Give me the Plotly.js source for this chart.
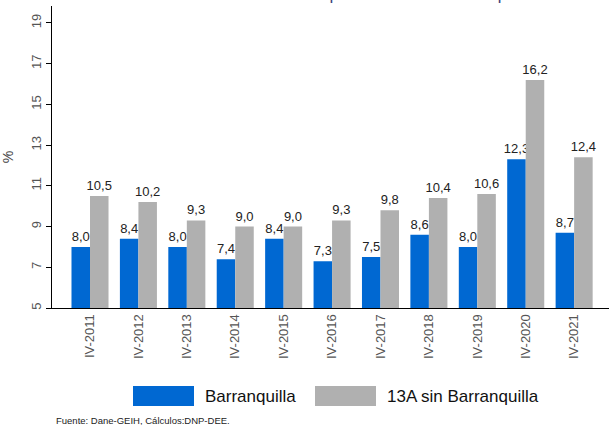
<!DOCTYPE html>
<html>
<head>
<meta charset="utf-8">
<script src="https://cdn.plot.ly/plotly-3.0.1.min.js"></script>
<style>html,body{margin:0;padding:0;background:#fff;}#chart{width:610px;height:425px;}</style>
</head>
<body>
<div id="chart"></div>
<script>
var categories = ["IV-2011","IV-2012","IV-2013","IV-2014","IV-2015","IV-2016","IV-2017","IV-2018","IV-2019","IV-2020","IV-2021"];
var barranquilla = [8.0, 8.4, 8.0, 7.4, 8.4, 7.3, 7.5, 8.6, 8.0, 12.3, 8.7];
var sinBarranquilla = [10.5, 10.2, 9.3, 9.0, 9.0, 9.3, 9.8, 10.4, 10.6, 16.2, 12.4];
var seriesNames = ["Barranquilla", "13A sin Barranquilla"];
var yTicks = [5, 7, 9, 11, 13, 15, 17, 19];

var FONT = "Liberation Sans, Arial, sans-serif";
var BLUE = "#0068D2";
var GRAY = "#B0B0B0";

var traces = [
  {type:"bar", name:seriesNames[0], x:categories, y:barranquilla, marker:{color:BLUE},
   text:barranquilla, texttemplate:"%{y:.1f}", textposition:"outside", cliponaxis:false, constraintext:"none",
   textfont:{family:FONT, size:13, color:"#222"}, hoverinfo:"skip"},
  {type:"bar", name:seriesNames[1], x:categories, y:sinBarranquilla, marker:{color:GRAY},
   text:sinBarranquilla, texttemplate:"%{y:.1f}", textposition:"outside", cliponaxis:false, constraintext:"none",
   textfont:{family:FONT, size:13, color:"#222"}, hoverinfo:"skip"}
];

var layout = {
  width:610, height:425,
  margin:{l:52, r:1, t:6, b:117, pad:0},
  paper_bgcolor:"#fff", plot_bgcolor:"#fff",
  separators:",.",
  showlegend:false,
  barmode:"group", bargap:0.235, bargroupgap:0,
  font:{family:FONT, color:"#444"},
  xaxis:{type:"category", range:[-0.785, 10.72], showline:true, linecolor:"#000", linewidth:1,
         ticks:"", tickangle:-90, tickfont:{family:FONT, size:13, color:"#555"}, showgrid:false, zeroline:false,
         fixedrange:true},
  yaxis:{range:[5, 19.83], tickvals:yTicks, ticktext:yTicks.map(String), showline:true, linecolor:"#000", linewidth:1,
         ticks:"outside", ticklen:5, tickcolor:"#000", tickangle:-90, tickfont:{family:FONT, size:13, color:"#555"},
         showgrid:false, zeroline:false, title:{text:"%", font:{family:FONT, size:14, color:"#444"}, standoff:12}},
  shapes:[
    {type:"rect", xref:"paper", yref:"paper", x0:(133-52)/557, x1:(194-52)/557, y0:(425-117-406)/302, y1:(425-117-386)/302,
     fillcolor:BLUE, line:{width:0}},
    {type:"rect", xref:"paper", yref:"paper", x0:(315-52)/557, x1:(376-52)/557, y0:(425-117-406)/302, y1:(425-117-386)/302,
     fillcolor:GRAY, line:{width:0}}
  ],
  annotations:[
    {xref:"paper", yref:"paper", x:(203-52)/557, y:(425-117-396)/302, xanchor:"left", yanchor:"middle", showarrow:false,
     text:seriesNames[0], font:{family:FONT, size:17, color:"#111"}},
    {xref:"paper", yref:"paper", x:(385-52)/557, y:(425-117-396)/302, xanchor:"left", yanchor:"middle", showarrow:false,
     text:seriesNames[1], font:{family:FONT, size:17, color:"#111"}},
    {xref:"paper", yref:"paper", x:(54-52)/557, y:(425-117-420)/302, xanchor:"left", yanchor:"middle", showarrow:false,
     text:"Fuente: Dane-GEIH, Cálculos:DNP-DEE.", font:{family:FONT, size:9.5, color:"#222"}},
    {xref:"paper", yref:"paper", x:(334-52)/557, y:(302+6+5.5)/302, xanchor:"center", yanchor:"middle", showarrow:false,
     text:"Gráfico 1. Tasa de desempleo trimestral Barranquilla", font:{family:FONT, size:17, color:"#3A3F7A"}}
  ]
};

Plotly.newPlot("chart", traces, layout, {displayModeBar:false, staticPlot:true});
</script>
</body>
</html>
